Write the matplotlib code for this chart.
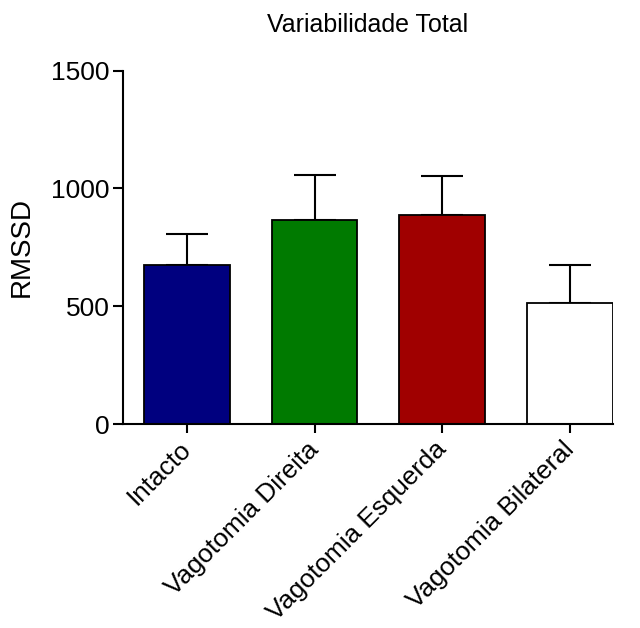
import matplotlib.pyplot as plt

plt.rcParams['font.family'] = ['Liberation Sans', 'DejaVu Sans']

# data
groups = ["Intacto", "Vagotomia Direita", "Vagotomia Esquerda", "Vagotomia Bilateral"]
rmssd = [676, 865, 887, 515]
sem = [129, 192, 166, 161]
colors = ["#00007f", "#007a00", "#a00000", "#ffffff"]

fig = plt.figure(figsize=(6.4, 6.28), dpi=100)
ax = fig.add_axes([0.1917, 0.3248, 0.7666, 0.5626])

x = list(range(len(groups)))
ax.bar(x, rmssd, width=0.67, color=colors, edgecolor="black", linewidth=1.3, zorder=2)
ax.errorbar(x, rmssd, yerr=[[0] * len(sem), sem], fmt="none", ecolor="black",
            elinewidth=1.5, capsize=15, capthick=1.5, zorder=1)

ax.set_xlim(-0.503, 3.34)
ax.set_ylim(0, 1500)
ax.set_yticks([0, 500, 1000, 1500])
ax.set_xticks(x)
ax.set_xticklabels(groups, rotation=45, ha="right", va="center", rotation_mode="anchor")

for side in ["top", "right"]:
    ax.spines[side].set_visible(False)
for side in ["left", "bottom"]:
    ax.spines[side].set_linewidth(1.5)

ax.tick_params(axis="y", length=7.5, width=1.5, labelsize=19, pad=2)
ax.tick_params(axis="x", length=6.5, width=1.5, labelsize=18.8, pad=9)

ax.set_ylabel("RMSSD", fontsize=20, labelpad=12)
ax.set_title("Variabilidade Total", fontsize=18, pad=28)

plt.savefig("out.png", dpi=100)
